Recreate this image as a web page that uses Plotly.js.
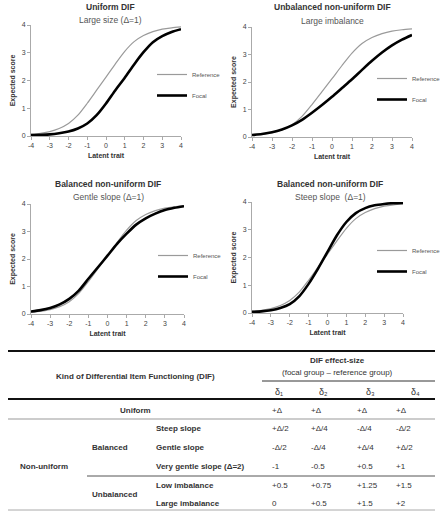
<!DOCTYPE html>
<html>
<head>
<meta charset="utf-8">
<script src="https://cdn.plot.ly/plotly-3.0.1.min.js"></script>
<style>html,body{margin:0;padding:0;background:#fff;overflow:hidden}#chart{width:440px;height:512px}</style>
</head>
<body>
<div id="chart"></div>
<script>
// ---- data ----
const theta = [-4,-3.5,-3,-2.5,-2,-1.5,-1,-0.5,0,0.5,1,1.5,2,2.5,3,3.5,4];
const refScore = [0.06,0.10,0.16,0.27,0.45,0.75,1.18,1.65,2.12,2.6,3.05,3.4,3.62,3.76,3.85,3.9,3.93];
const focalUniform = [0.03,0.04,0.06,0.10,0.16,0.27,0.45,0.75,1.17,1.65,2.1,2.58,3.02,3.38,3.6,3.75,3.85];
const focalLargeImb = [0.07,0.11,0.17,0.27,0.42,0.62,0.88,1.16,1.46,1.78,2.1,2.44,2.77,3.07,3.33,3.54,3.71];
const focalGentle = [0.09,0.14,0.22,0.35,0.55,0.85,1.28,1.7,2.12,2.55,2.92,3.25,3.48,3.65,3.78,3.86,3.92];
const focalSteep = [0.04,0.06,0.1,0.18,0.32,0.6,1.05,1.6,2.2,2.8,3.28,3.6,3.78,3.88,3.93,3.96,3.97];
const xTicks = [-4,-3,-2,-1,0,1,2,3,4];
const yTicks = [0,1,2,3,4];
const panelTitles = ['Uniform DIF','Unbalanced non-uniform DIF','Balanced non-uniform DIF','Balanced non-uniform DIF'];
const panelSubtitles = ['Large size (Δ=1)','Large imbalance','Gentle slope (Δ=1)','Steep slope  (Δ=1)'];
const seriesNames = ['Reference','Focal'];

// table content
const tableHeadLeft = 'Kind of Differential Item Functioning (DIF)';
const tableHeadRight1 = 'DIF effect-size';
const tableHeadRight2 = '(focal group – reference group)';
const deltaLabels = ['δ₁','δ₂','δ₃','δ₄'];
const rowKinds = ['Uniform','Steep slope','Gentle slope','Very gentle slope (Δ=2)','Low imbalance','Large imbalance'];
const groupLabels = ['Non-uniform','Balanced','Unbalanced'];
const rowValues = [
  ['+Δ','+Δ','+Δ','+Δ'],
  ['+Δ/2','+Δ/4','-Δ/4','-Δ/2'],
  ['-Δ/2','-Δ/4','+Δ/4','+Δ/2'],
  ['-1','-0.5','+0.5','+1'],
  ['+0.5','+0.75','+1.25','+1.5'],
  ['0','+0.5','+1.5','+2']
];

// ---- layout helpers ----
const W = 440, H = 512;
const px = v => v / W;
const py = v => 1 - v / H;
const FONT = 'Liberation Sans, Arial, sans-serif';

const focals = [focalUniform, focalLargeImb, focalGentle, focalSteep];
const panels = [
  {x0:31, x1:181, yTop:25, yBot:136, cx:110, tY:7, sY:20, leg:[152,60]},
  {x0:252, x1:412, yTop:27, yBot:137, cx:332, tY:7, sY:21, leg:[372,64]},
  {x0:31, x1:184, yTop:204, yBot:314, cx:108, tY:184, sY:197, leg:[153,241]},
  {x0:252, x1:403, yTop:202, yBot:313, cx:330, tY:184, sY:197, leg:[372,236]}
];

const traces = [];
const layout = {
  width: W, height: H,
  margin: {l:0, r:0, t:0, b:0, pad:0, autoexpand:false},
  paper_bgcolor: '#fff', plot_bgcolor: '#fff',
  font: {family: FONT, color: '#333'},
  showlegend: true,
  annotations: [], shapes: []
};

panels.forEach((p, i) => {
  const sfx = i === 0 ? '' : String(i + 1);
  const legName = 'legend' + sfx;
  traces.push({
    x: theta, y: refScore, type: 'scatter', mode: 'lines', name: seriesNames[0],
    xaxis: 'x' + sfx, yaxis: 'y' + sfx, legend: legName, legendgroup: 'r' + i,
    line: {color: '#9a9a9a', width: 1.2, shape: 'spline', smoothing: 0.7}
  });
  traces.push({
    x: theta, y: focals[i], type: 'scatter', mode: 'lines', name: seriesNames[1],
    xaxis: 'x' + sfx, yaxis: 'y' + sfx, legend: legName, legendgroup: 'f' + i,
    line: {color: '#000', width: 2.6, shape: 'spline', smoothing: 0.7}
  });
  layout['xaxis' + sfx] = {
    domain: [px(p.x0), px(p.x1)], range: [-4, 4], anchor: 'y' + sfx,
    tickvals: xTicks, ticktext: xTicks.map(String), ticks: 'outside', ticklen: 3, tickcolor: '#aaa',
    showline: true, linecolor: '#aaa', linewidth: 1, showgrid: false, zeroline: false,
    tickfont: {size: 7, color: '#444', family: FONT},
    title: {text: '<b>Latent trait</b>', font: {size: 7, color: '#333', family: FONT}, standoff: 4}
  };
  layout['yaxis' + sfx] = {
    domain: [py(p.yBot), py(p.yTop)], range: [0, 4], anchor: 'x' + sfx,
    tickvals: yTicks, ticks: 'outside', ticklen: 3, tickcolor: '#aaa',
    showline: true, linecolor: '#aaa', linewidth: 1, showgrid: false, zeroline: false,
    tickfont: {size: 7, color: '#444', family: FONT},
    title: {text: '<b>Expected score</b>', font: {size: 7, color: '#333', family: FONT}, standoff: 5}
  };
  layout[legName] = {
    x: px(p.leg[0]), y: py(p.leg[1]), xanchor: 'left', yanchor: 'top',
    bgcolor: 'rgba(0,0,0,0)', borderwidth: 0, font: {size: 6, color: '#555', family: FONT},
    tracegroupgap: 2, itemclick: false
  };
  layout.annotations.push({
    xref: 'paper', yref: 'paper', x: px(p.cx), y: py(p.tY), text: '<b>' + panelTitles[i] + '</b>',
    showarrow: false, xanchor: 'center', yanchor: 'middle', font: {size: 8.5, color: '#333', family: FONT}
  });
  layout.annotations.push({
    xref: 'paper', yref: 'paper', x: px(p.cx), y: py(p.sY), text: panelSubtitles[i],
    showarrow: false, xanchor: 'center', yanchor: 'middle', font: {size: 8.5, color: '#555', family: FONT}
  });
});

// ---- table ----
function note(x, y, text, opts) {
  opts = opts || {};
  layout.annotations.push({
    xref: 'paper', yref: 'paper', x: px(x), y: py(y), text: text, showarrow: false,
    xanchor: opts.anchor || 'left', yanchor: 'middle',
    font: {size: opts.size || 8, color: opts.color || '#333', family: FONT}
  });
}
function hline(x0, x1, y, w, c) {
  layout.shapes.push({type: 'line', xref: 'paper', yref: 'paper', x0: px(x0), x1: px(x1), y0: py(y), y1: py(y),
    line: {color: c, width: w}});
}
hline(8, 435, 351, 2.2, '#111');
hline(262, 435, 381, 1, '#333');
hline(8, 435, 399, 2.2, '#111');
hline(8, 435, 419, 1, '#999');
hline(87, 435, 476, 1, '#555');
hline(8, 435, 510, 1, '#aaa');

note(135, 376, '<b>' + tableHeadLeft + '</b>', {anchor: 'center'});
note(337, 360, '<b>' + tableHeadRight1 + '</b>', {anchor: 'center'});
note(337, 372, tableHeadRight2, {anchor: 'center'});
const colX = [270, 309, 355, 394];
const deltaX = [279, 323, 370, 415];
deltaLabels.forEach((d, j) => note(deltaX[j], 392, d, {anchor: 'center', size: 9}));

const rowY = [410, 428, 447, 466, 485, 503];
note(135, rowY[0], '<b>' + rowKinds[0] + '</b>', {anchor: 'center'});
for (let r = 1; r < rowKinds.length; r++) note(154, rowY[r], '<b>' + rowKinds[r] + '</b>');
rowValues.forEach((vals, r) => vals.forEach((v, j) => note(colX[j], rowY[r], v)));
note(18, 466, '<b>' + groupLabels[0] + '</b>');
note(90, 447, '<b>' + groupLabels[1] + '</b>');
note(90, 494, '<b>' + groupLabels[2] + '</b>');

Plotly.newPlot('chart', traces, layout, {staticPlot: true, displayModeBar: false});
</script>
</body>
</html>
